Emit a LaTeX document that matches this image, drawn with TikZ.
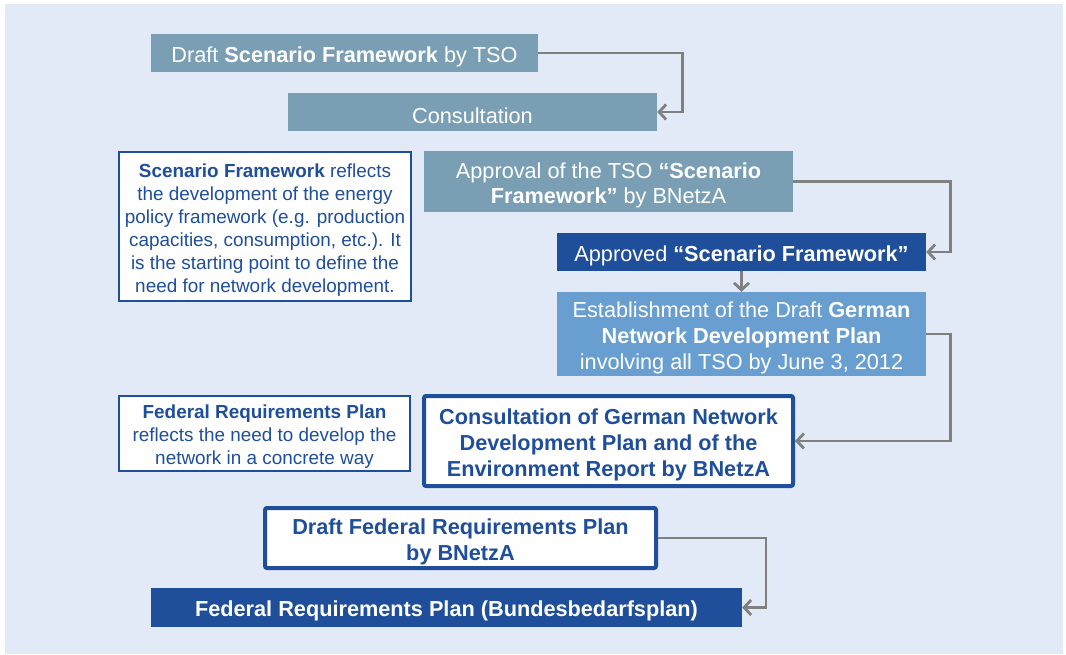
\documentclass[tikz,border=0pt]{standalone}
\usepackage{xcolor}
\usepackage{fontspec}
\setmainfont{Liberation Sans}
\usepackage{tikz}
\usetikzlibrary{arrows.meta}

\definecolor{bgblue}{HTML}{E2E9F7}
\definecolor{greyblue}{HTML}{7A9FB5}
\definecolor{darkblue}{HTML}{1F4E9B}
\definecolor{midblue}{HTML}{699FD0}
\definecolor{flowgrey}{HTML}{808080}

\newcommand{\bigtext}{\fontsize{21.7}{25.8}\selectfont}
\newcommand{\notetext}{\fontsize{18.9}{23}\selectfont}
\newcommand{\lift}{\rule{0pt}{1.08em}}

\begin{document}
\begin{tikzpicture}[
    x=1pt, y=-1pt,
    stage/.style={rectangle, inner sep=0pt, text=white, align=center, font=\bigtext},
    greybox/.style={stage, fill=greyblue},
    darkbox/.style={stage, fill=darkblue},
    lightbox/.style={stage, fill=midblue},
    framebox/.style={stage, fill=white, draw=darkblue, line width=4pt, rounded corners=2pt, text=darkblue, font=\bigtext\bfseries},
    note/.style={rectangle, inner sep=0pt, fill=white, draw=darkblue, line width=2.2pt, text=darkblue, align=center, font=\notetext},
    flow/.style={draw=flowgrey, line width=2.8pt, -{Straight Barb[length=7pt, width=15pt]}}
]
    % Background
    \useasboundingbox (0,0) rectangle (1066,655);
    \fill[bgblue] (5,4) rectangle (1063,654);

    % Scenario framework stages
    \node[greybox, minimum width=387, minimum height=38] (draft) at (344.5,53)
        {\lift Draft \textbf{Scenario Framework} by TSO};
    \node[greybox, minimum width=369, minimum height=38] (consult) at (472.5,112)
        {\lift Consultation};
    \node[greybox, minimum width=369, minimum height=61] (approval) at (608.5,181.5)
        {\lift Approval of the TSO \textbf{“Scenario}\\ \textbf{Framework”} by BNetzA};
    \node[darkbox, minimum width=369, minimum height=38] (approved) at (741.5,252)
        {\lift Approved \textbf{“Scenario Framework”}};

    % Network development plan stages
    \node[lightbox, minimum width=369, minimum height=84] (establish) at (741.5,334)
        {\lift Establishment of the Draft \textbf{German}\\ \textbf{Network Development Plan}\\ involving all TSO by June 3, 2012};
    \node[framebox, minimum width=369, minimum height=90] (ndpcons) at (608.5,441)
        {\lift Consultation of German Network\\ Development Plan and of the\\ Environment Report by BNetzA};

    % Federal requirements plan stages
    \node[framebox, minimum width=391, minimum height=60] (fedraft) at (460.5,538)
        {\lift Draft Federal Requirements Plan\\ by BNetzA};
    \node[darkbox, minimum width=591, minimum height=39, font=\bigtext\bfseries] (fedplan) at (446.5,607.5)
        {\lift Federal Requirements Plan (Bundesbedarfsplan)};

    % Side notes
    \node[note, minimum width=292, minimum height=149] (scnote) at (265,226.5)
        {\lift\textbf{Scenario Framework} reflects\\ the development of the energy\\ policy framework (e.g. production\\ capacities, consumption, etc.). It\\ is the starting point to define the\\ need for network development.};
    \node[note, minimum width=291, minimum height=75] (fednote) at (264.5,433.5)
        {\lift\textbf{Federal Requirements Plan}\\ reflects the need to develop the\\ network in a concrete way};

    % Flow
    \draw[flow] (draft.east) -- ++(144,0) |- (consult.east);
    \draw[flow] (approval.east) -- ++(157,0) |- (approved.east);
    \draw[flow] (approved.south) -- (establish.north);
    \draw[flow] (establish.east) -- ++(24,0) |- (ndpcons.east);
    \draw[flow] (fedraft.east) -- ++(108,0) |- (fedplan.east);
\end{tikzpicture}
\end{document}
